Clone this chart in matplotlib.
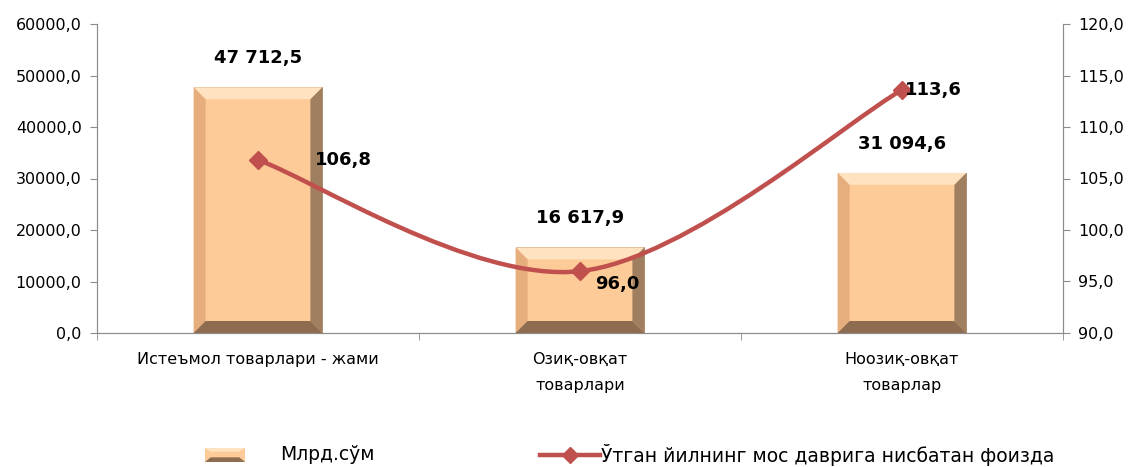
import numpy as np
import matplotlib
matplotlib.use("Agg")
import matplotlib.pyplot as plt
from matplotlib.path import Path
from matplotlib.patches import PathPatch, Polygon, Rectangle
from matplotlib.lines import Line2D

plt.rcParams['font.family'] = ['DejaVu Sans']

categories = ["Истеъмол товарлари - жами", "Озиқ-овқат\nтоварлари", "Ноозиқ-овқат\nтоварлар"]
volume = [47712.5, 16617.9, 31094.6]          # Млрд.сўм
volume_labels = ["47 712,5", "16 617,9", "31 094,6"]
index_pct = [106.8, 96.0, 113.6]               # %
index_labels = ["106,8", "96,0", "113,6"]
left_ticks = [0, 10000, 20000, 30000, 40000, 50000, 60000]
right_ticks = [90, 95, 100, 105, 110, 115, 120]

face = "#FDCB97"
c_top = "#FFE2C0"
c_left = "#E6AE7C"
c_right = "#A07E60"
c_bot = "#8E6C50"
red = "#C0504D"
grey = "#8C8C8C"

fig = plt.figure(figsize=(11.35, 4.67), dpi=100)
ax = fig.add_axes([97 / 1135, 134 / 467, (1063 - 97) / 1135, 309 / 467])
ax2 = ax.twinx()

ax.set_xlim(-0.5, 2.5)
ax.set_ylim(0, 60000)
ax2.set_ylim(90, 120)

x = np.arange(len(categories))
w = 0.4
bars = ax.bar(x, volume, width=w, color=face, edgecolor="#B08A66", lw=0.6, zorder=2)

# bevel edges
dx = 12 / 322
dy = 12 / 309 * 60000
for b in bars:
    x0, x1 = b.get_x(), b.get_x() + b.get_width()
    y0, y1 = 0, b.get_height()
    polys = [
        ([(x0, y1), (x1, y1), (x1 - dx, y1 - dy), (x0 + dx, y1 - dy)], c_top),
        ([(x0, y0), (x0, y1), (x0 + dx, y1 - dy), (x0 + dx, y0 + dy)], c_left),
        ([(x1, y0), (x1, y1), (x1 - dx, y1 - dy), (x1 - dx, y0 + dy)], c_right),
        ([(x0, y0), (x1, y0), (x1 - dx, y0 + dy), (x0 + dx, y0 + dy)], c_bot),
    ]
    for pts, c in polys:
        ax.add_patch(Polygon(pts, closed=True, facecolor=c, edgecolor="none", zorder=3))

for xi, v, t in zip(x, volume, volume_labels):
    ax.annotate(t, (xi, v), xytext=(0, 21), textcoords="offset points",
                ha="center", va="center", fontsize=13, fontweight="bold", zorder=5)

# smoothed line (Excel-style bezier)
pts = np.column_stack([x, index_pct]).astype(float)
ext = np.vstack([pts[0], pts, pts[-1]])
verts = [tuple(pts[0])]
codes = [Path.MOVETO]
for i in range(len(pts) - 1):
    p_prev, p0, p1, p_next = ext[i], ext[i + 1], ext[i + 2], ext[i + 3]
    c1 = p0 + (p1 - p_prev) / 6
    c2 = p1 - (p_next - p0) / 6
    verts += [tuple(c1), tuple(c2), tuple(p1)]
    codes += [Path.CURVE4] * 3
ax2.add_patch(PathPatch(Path(verts, codes), facecolor="none", edgecolor=red, lw=3.2, zorder=4,
                        capstyle="round"))
ax2.plot(x, index_pct, ls="none", marker="D", ms=9, color=red, zorder=5)

offsets = [(41, 0), (11, -9), (2, 0)]
for xi, v, t, off in zip(x, index_pct, index_labels, offsets):
    ax2.annotate(t, (xi, v), xytext=off, textcoords="offset points",
                 ha="left", va="center", fontsize=13, fontweight="bold", zorder=6)

# axes styling
ax.set_yticks(left_ticks)
ax.set_yticklabels([f"{v:.1f}".replace(".", ",") for v in left_ticks], fontsize=11.5)
ax2.set_yticks(right_ticks)
ax2.set_yticklabels([f"{v:.1f}".replace(".", ",") for v in right_ticks], fontsize=11.5)
ax.set_xticks(x)
ax.set_xticklabels(categories, fontsize=11.5, linespacing=1.9)
ax.set_xticks([-0.5, 0.5, 1.5, 2.5], minor=True)
ax.tick_params(axis="x", which="major", length=0, pad=14)
ax.tick_params(axis="x", which="minor", length=5, color=grey)
ax.tick_params(axis="y", length=5, color=grey, pad=6)
ax2.tick_params(axis="y", length=5, color=grey, pad=6)
for a in (ax, ax2):
    a.spines["top"].set_visible(False)
    for s in ("left", "right", "bottom"):
        a.spines[s].set_color(grey)

# legend
ly = 1 - 455 / 467
lx0, lx1, ly0, ly1 = 205 / 1135, 245 / 1135, 1 - 462 / 467, 1 - 448 / 467
fig.patches.append(Rectangle((lx0, ly0), lx1 - lx0, ly1 - ly0, transform=fig.transFigure,
                             facecolor=face, edgecolor="none"))
fig.patches.append(Polygon([(lx0, ly0), (lx1, ly0), (lx1 - 0.005, ly0 + 0.01), (lx0 + 0.005, ly0 + 0.01)],
                           closed=True, transform=fig.transFigure, facecolor=c_bot, edgecolor="none"))
fig.patches.append(Polygon([(lx0, ly1), (lx1, ly1), (lx1 - 0.005, ly1 - 0.008), (lx0 + 0.005, ly1 - 0.008)],
                           closed=True, transform=fig.transFigure, facecolor=c_top, edgecolor="none"))
fig.text(280 / 1135, ly, "Млрд.сўм", fontsize=13.5, va="center", ha="left")
fig.lines.append(Line2D([540 / 1135, 600 / 1135], [ly] * 2, transform=fig.transFigure,
                        color=red, lw=3.2))
fig.lines.append(Line2D([570 / 1135], [ly], transform=fig.transFigure,
                        color=red, marker="D", ms=8))
fig.text(601 / 1135, ly, "Ўтган йилнинг мос даврига нисбатан фоизда", fontsize=13.5,
         va="center", ha="left")

fig.savefig("out.png", dpi=100)
